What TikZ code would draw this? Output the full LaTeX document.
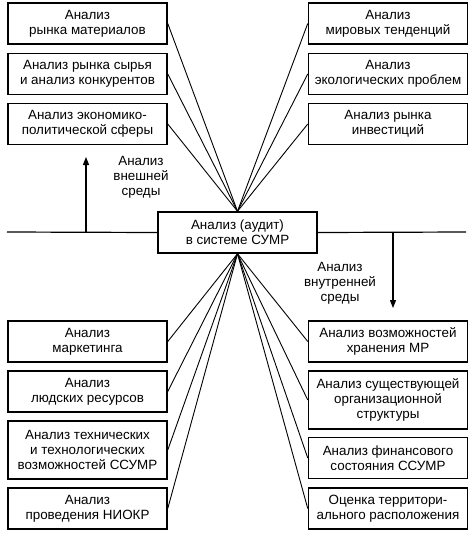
\documentclass[tikz,border=0pt]{standalone}
\usepackage{fontspec}
\setmainfont{Liberation Sans}
\usetikzlibrary{arrows.meta}
\begin{document}
\begin{tikzpicture}[x=1pt,y=-1pt,
  box/.style={draw,line width=1.5pt,minimum width=159pt,inner sep=0pt,align=center,
    font=\fontsize{13.4}{15}\selectfont},
  h2/.style={minimum height=41pt},
  h3/.style={minimum height=58pt},
  lbl/.style={align=center,font=\fontsize{13.4}{15}\selectfont},
  conn/.style={line width=0.9pt},
  axis/.style={line width=1.2pt},
  arr/.style={line width=1.2pt,-{Triangle[length=8pt,width=6pt]}}]
\useasboundingbox (0,0) rectangle (474,536);
% top left
\node[box,h2] (tl1) at (87.5,23.5) {Анализ\\рынка материалов};
\node[box,h2] (tl2) at (87.5,74) {Анализ рынка сырья\\и анализ конкурентов};
\node[box,h2] (tl3) at (87.5,124) {Анализ экономико-\\политической сферы};
% top right
\node[box,h2] (tr1) at (388,23.5) {Анализ\\мировых тенденций};
\node[box,h2] (tr2) at (388,74) {Анализ\\экологических проблем};
\node[box,h2] (tr3) at (388,124) {Анализ рынка\\инвестиций};
% center
\node[box,h2,fill=white] (c) at (237.5,232.5) {Анализ (аудит)\\в системе СУМР};
% bottom left
\node[box,h2] (bl1) at (87.5,341.5) {Анализ\\маркетинга};
\node[box,h2] (bl2) at (87.5,391.5) {Анализ\\людских ресурсов};
\node[box,h3] (bl3) at (87.5,450) {Анализ технических\\и технологических\\возможностей ССУМР};
\node[box,h2] (bl4) at (87.5,508.5) {Анализ\\проведения НИОКР};
% bottom right
\node[box,h2] (br1) at (388,341.5) {Анализ возможностей\\хранения МР};
\node[box,h3] (br2) at (388,400) {Анализ существующей\\организационной\\структуры};
\node[box,h2] (br3) at (388,458) {Анализ финансового\\состояния ССУМР};
\node[box,h2] (br4) at (388,508.5) {Оценка территори-\\ального расположения};
% axis
\coordinate (axl) at (7,232);
\coordinate (axr) at (466,232);
\draw[axis] (axl) -- (c.west);
\draw[axis] (c.east) -- (axr);
\coordinate (upb) at (86,232);
\coordinate (upt) at (86,157);
\draw[arr] (upb) -- (upt);
\coordinate (dnt) at (393,232);
\coordinate (dnb) at (393,308);
\draw[arr] (dnt) -- (dnb);
\node[lbl] (ext) at (141,177) {Анализ\\внешней\\среды};
\node[lbl] (int) at (340,283) {Анализ\\внутренней\\среды};
% connectors
\foreach \n in {tl1,tl2,tl3} \draw[conn] (c.north) -- (\n.east);
\foreach \n in {tr1,tr2,tr3} \draw[conn] (c.north) -- (\n.west);
\foreach \n in {bl1,bl2,bl3,bl4} \draw[conn] (c.south) -- (\n.east);
\foreach \n in {br1,br2,br3,br4} \draw[conn] (c.south) -- (\n.west);
\end{tikzpicture}
\end{document}
